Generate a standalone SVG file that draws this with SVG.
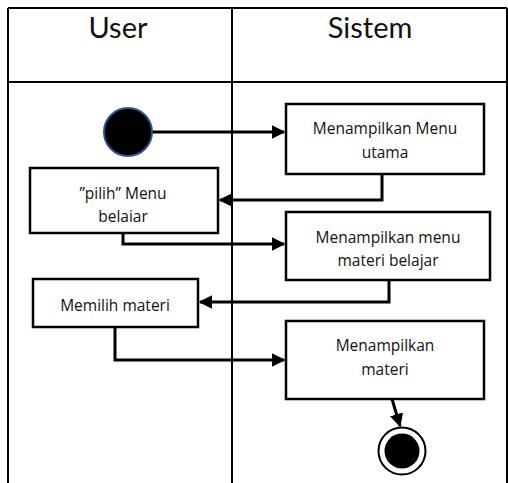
<svg xmlns="http://www.w3.org/2000/svg" width="508" height="483" viewBox="0 0 508 483">
  <style>
    .lane { fill: none; stroke: #000; stroke-width: 2; }
    .box { fill: #fff; stroke: #000; stroke-width: 2.5; }
    .head { font-family: "Lato", "Open Sans", "Liberation Sans", sans-serif; font-size: 29px; fill: #111; text-anchor: middle; }
    .lbl { font-family: "Open Sans", "Liberation Sans", sans-serif; font-size: 15.5px; fill: #111; text-anchor: middle; }
    .flow { fill: none; stroke: #000; stroke-width: 3; }
  </style>
  <defs>
    <marker id="arrow" viewBox="0 0 10 10" refX="9" refY="5" markerWidth="4.5" markerHeight="4.5" orient="auto" markerUnits="strokeWidth">
      <path d="M0,0 L10,5 L0,10 z" fill="#000"/>
    </marker>
  </defs>

  <rect width="508" height="483" fill="#fff"/>

  <!-- swimlanes -->
  <g id="lanes">
    <path class="lane" d="M8,8 H507 M8,82 H507 M8,8 V483 M232,8 V483 M507,8 V483"/>
    <text class="head" x="118" y="38">User</text>
    <text class="head" x="370" y="38">Sistem</text>
  </g>

  <!-- connectors -->
  <g id="connectors">
    <path class="flow" d="M152,132 H284" marker-end="url(#arrow)"/>
    <path class="flow" d="M382,174 V200 H220" marker-end="url(#arrow)"/>
    <path class="flow" d="M123,233 V244 H284" marker-end="url(#arrow)"/>
    <path class="flow" d="M389,280 V302 H200" marker-end="url(#arrow)"/>
    <path class="flow" d="M115,327 V360 H284" marker-end="url(#arrow)"/>
    <path class="flow" d="M392,399 L400,426" marker-end="url(#arrow)"/>
  </g>

  <g id="start">
    <circle cx="128" cy="132" r="24" fill="#000" stroke="#2f528f" stroke-width="2"/>
  </g>

  <g id="menu-utama">
    <rect class="box" x="286" y="104" width="198" height="70"/>
    <text class="lbl" x="385" y="134">Menampilkan Menu</text>
    <text class="lbl" x="385" y="158">utama</text>
  </g>

  <g id="pilih-menu">
    <rect class="box" x="30" y="168" width="188" height="65"/>
    <text class="lbl" x="123" y="199">”pilih” Menu</text>
    <text class="lbl" x="123" y="222">belaiar</text>
  </g>

  <g id="menu-materi">
    <rect class="box" x="286" y="212" width="204" height="68"/>
    <text class="lbl" x="388" y="243">Menampilkan menu</text>
    <text class="lbl" x="388" y="266">materi belajar</text>
  </g>

  <g id="memilih-materi">
    <rect class="box" x="33" y="279" width="165" height="48"/>
    <text class="lbl" x="115" y="311">Memilih materi</text>
  </g>

  <g id="tampil-materi">
    <rect class="box" x="286" y="321" width="198" height="78"/>
    <text class="lbl" x="385" y="351">Menampilkan</text>
    <text class="lbl" x="385" y="375">materi</text>
  </g>

  <g id="end">
    <circle cx="402" cy="451" r="23.5" fill="#fff" stroke="#000" stroke-width="2"/>
    <circle cx="402" cy="451" r="17.5" fill="#000"/>
  </g>
</svg>
